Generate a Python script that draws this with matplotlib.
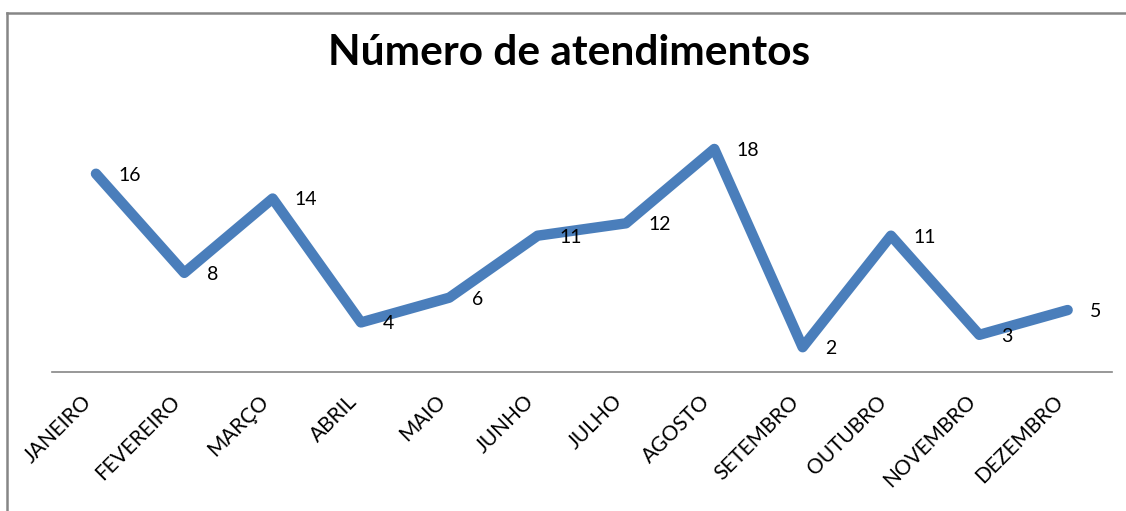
import matplotlib
matplotlib.use("Agg")
import matplotlib.pyplot as plt
from matplotlib.lines import Line2D

months = ["JANEIRO", "FEVEREIRO", "MARÇO", "ABRIL", "MAIO", "JUNHO",
          "JULHO", "AGOSTO", "SETEMBRO", "OUTUBRO", "NOVEMBRO", "DEZEMBRO"]
atendimentos = [16, 8, 14, 4, 6, 11, 12, 18, 2, 11, 3, 5]

LINE_COLOR = "#4A7EBB"
FONT = "Lato"

fig = plt.figure(figsize=(11.26, 5.11), dpi=100)
ax = fig.add_axes([0.046, 0.272, 0.9414, 0.485])

x = list(range(len(months)))
ax.plot(x, atendimentos, color=LINE_COLOR, linewidth=7.5,
        solid_joinstyle="round", solid_capstyle="round", zorder=3, clip_on=False)

for xi, v in zip(x, atendimentos):
    ax.annotate(str(v), (xi, v), xytext=(16, -1), textcoords="offset points",
                ha="left", va="center", fontsize=14, family=FONT, color="black")

ax.set_xlim(-0.5, len(months) - 0.5)
ax.set_ylim(0, 20)
ax.set_xticks(x)
ax.set_xticklabels(months, rotation=45, ha="right", fontsize=15, family=FONT)
ax.tick_params(axis="x", length=0, pad=14)
ax.set_yticks([])
for side in ["top", "right", "left"]:
    ax.spines[side].set_visible(False)
ax.spines["bottom"].set_color("#868686")
ax.spines["bottom"].set_linewidth(1.2)

fig.text(0.505, 0.897, "Número de atendimentos", ha="center", va="center",
         fontsize=30.5, fontweight="bold", family=FONT)

# chart frame (top and left edges visible in the crop)
fig.add_artist(Line2D([7 / 1126, 1], [1 - 13 / 511, 1 - 13 / 511],
                      color="#868686", linewidth=1.8, transform=fig.transFigure))
fig.add_artist(Line2D([7 / 1126, 7 / 1126], [0, 1 - 13 / 511],
                      color="#868686", linewidth=1.8, transform=fig.transFigure))

fig.savefig("out.png", dpi=100)
